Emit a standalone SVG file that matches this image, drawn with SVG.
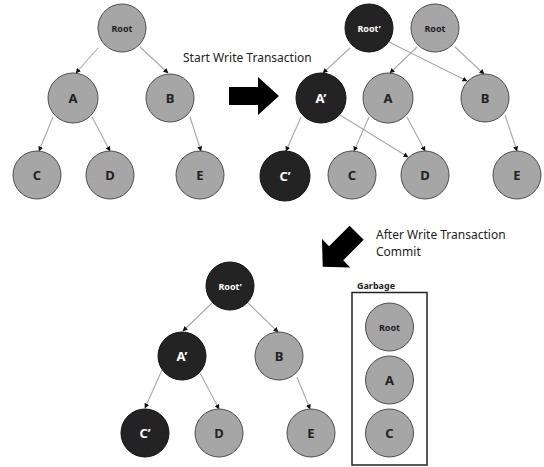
<svg xmlns="http://www.w3.org/2000/svg" width="544" height="467" viewBox="0 0 544 467">
<style>
.g{fill:#a6a6a6;stroke:#4d4d4d;stroke-width:1}
.k{fill:#232323;stroke:#111;stroke-width:1}
.e{stroke:#a8a8a8;stroke-width:1.1;fill:none;marker-end:url(#ah)}
.t{font-family:"Noto Sans","Open Sans",sans-serif;font-weight:bold;text-anchor:middle}
.tl{font-size:13px}
.ts{font-size:9px}
.d{fill:#222}
.w{fill:#fff}
.cap{font-family:"Noto Sans","Open Sans",sans-serif;font-size:12px;fill:#222}
</style>
<defs>
<marker id="ah" markerWidth="5" markerHeight="5" refX="4.5" refY="2.5" orient="auto" markerUnits="userSpaceOnUse">
<path d="M0,0 L5,2.5 L0,5 Z" fill="#111"/>
</marker>
</defs>
<rect width="544" height="467" fill="#fff"/>
<g id="connectors">
<line class="e" x1="98" y1="48" x2="76" y2="73"/>
<line class="e" x1="140" y1="47" x2="168" y2="73"/>
<line class="e" x1="53" y1="117" x2="39" y2="151"/>
<line class="e" x1="92" y1="117" x2="110" y2="151"/>
<line class="e" x1="190" y1="117" x2="201" y2="151"/>
<line class="e" x1="350" y1="48" x2="323" y2="73"/>
<line class="e" x1="389" y1="42" x2="467" y2="81"/>
<line class="e" x1="417" y1="47" x2="390" y2="73"/>
<line class="e" x1="455" y1="47" x2="484" y2="74"/>
<line class="e" x1="301" y1="117" x2="286" y2="151"/>
<line class="e" x1="340" y1="115" x2="408" y2="157"/>
<line class="e" x1="369" y1="117" x2="354" y2="151"/>
<line class="e" x1="407" y1="117" x2="425" y2="151"/>
<line class="e" x1="505" y1="115" x2="517" y2="151"/>
<line class="e" x1="212" y1="303" x2="183" y2="331"/>
<line class="e" x1="248" y1="303" x2="278" y2="332"/>
<line class="e" x1="162" y1="370" x2="145" y2="408"/>
<line class="e" x1="200" y1="373" x2="219" y2="409"/>
<line class="e" x1="297" y1="377" x2="310" y2="409"/>
</g>
<g id="bigarrow1"><polygon points="0,0 -21,-19 -21,-9 -50,-9 -50,9 -21,9 -21,19" transform="translate(279,96)" fill="#000"/></g>
<g id="bigarrow2"><polygon points="0,0 -19,-20 -19,-10 -48,-10 -48,10 -19,10 -19,20" transform="translate(322.7,266.7) rotate(135)" fill="#000"/></g>
<text class="cap" x="183" y="62">Start Write Transaction</text>
<text class="cap" x="376" y="238.5">After Write Transaction</text>
<text class="cap" x="376" y="255.5">Commit</text>
<g id="t1-root"><circle class="g" cx="122" cy="28" r="24"/><text class="t ts d" x="122" y="31.5">Root</text></g>
<g id="t1-a"><circle class="g" cx="73" cy="98" r="25"/><text class="t tl d" x="73" y="103">A</text></g>
<g id="t1-b"><circle class="g" cx="170" cy="98" r="24"/><text class="t tl d" x="170" y="103">B</text></g>
<g id="t1-c"><circle class="g" cx="37" cy="175" r="24"/><text class="t tl d" x="37" y="180">C</text></g>
<g id="t1-d"><circle class="g" cx="110" cy="175" r="24"/><text class="t tl d" x="110" y="180">D</text></g>
<g id="t1-e"><circle class="g" cx="200" cy="175" r="24"/><text class="t tl d" x="200" y="180">E</text></g>
<g id="t2-rootp"><circle class="k" cx="369" cy="28" r="24"/><text class="t ts w" x="369" y="31.5">Root’</text></g>
<g id="t2-root"><circle class="g" cx="435" cy="28" r="24"/><text class="t ts d" x="435" y="31.5">Root</text></g>
<g id="t2-ap"><circle class="k" cx="321" cy="98" r="25"/><text class="t tl w" x="321" y="103">A’</text></g>
<g id="t2-a"><circle class="g" cx="388" cy="98" r="25"/><text class="t tl d" x="388" y="103">A</text></g>
<g id="t2-b"><circle class="g" cx="485" cy="98" r="24"/><text class="t tl d" x="485" y="103">B</text></g>
<g id="t2-cp"><circle class="k" cx="285" cy="176" r="25"/><text class="t tl w" x="285" y="181">C’</text></g>
<g id="t2-c"><circle class="g" cx="352" cy="175" r="24"/><text class="t tl d" x="352" y="180">C</text></g>
<g id="t2-d"><circle class="g" cx="425" cy="175" r="24"/><text class="t tl d" x="425" y="180">D</text></g>
<g id="t2-e"><circle class="g" cx="517" cy="175" r="24"/><text class="t tl d" x="517" y="180">E</text></g>
<g id="t3-rootp"><circle class="k" cx="230" cy="286" r="24"/><text class="t ts w" x="230" y="289.5">Root’</text></g>
<g id="t3-ap"><circle class="k" cx="182" cy="356" r="24"/><text class="t tl w" x="182" y="361">A’</text></g>
<g id="t3-b"><circle class="g" cx="279" cy="356" r="24"/><text class="t tl d" x="279" y="361">B</text></g>
<g id="t3-cp"><circle class="k" cx="145" cy="433" r="24"/><text class="t tl w" x="145" y="438">C’</text></g>
<g id="t3-d"><circle class="g" cx="219" cy="433" r="24"/><text class="t tl d" x="219" y="438">D</text></g>
<g id="t3-e"><circle class="g" cx="311" cy="433" r="24"/><text class="t tl d" x="311" y="438">E</text></g>
<g id="garbage">
<text class="t ts d" x="376" y="289">Garbage</text>
<rect x="352" y="292.5" width="75" height="172.5" fill="none" stroke="#222" stroke-width="1.5"/>
</g>
<g id="g-root"><circle class="g" cx="389.5" cy="327" r="24"/><text class="t ts d" x="389.5" y="330.5">Root</text></g>
<g id="g-a"><circle class="g" cx="389.5" cy="380" r="24"/><text class="t tl d" x="389.5" y="385">A</text></g>
<g id="g-c"><circle class="g" cx="389.5" cy="433" r="24"/><text class="t tl d" x="389.5" y="438">C</text></g>
</svg>
